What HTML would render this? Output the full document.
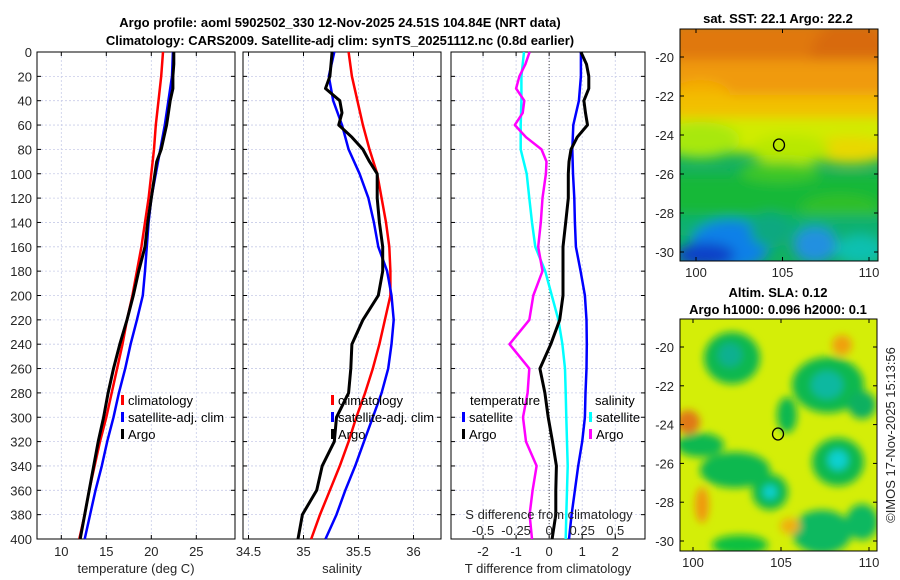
<!DOCTYPE html>
<html><head><meta charset="utf-8">
<style>
body{margin:0;background:#fff;}
svg{display:block;font-family:"Liberation Sans","DejaVu Sans",sans-serif;}
.tk{font-size:13px;fill:#262626;}
.ttl{font-size:13px;font-weight:bold;fill:#000;}
.lg{font-size:13px;fill:#000;}
</style></head>
<body>
<svg id="chart" width="900" height="580" viewBox="0 0 900 580">
<defs>
<filter id="bl" x="-50%" y="-50%" width="200%" height="200%"><feGaussianBlur stdDeviation="6"/></filter>
<filter id="bl2" x="-50%" y="-50%" width="200%" height="200%"><feGaussianBlur stdDeviation="4"/></filter>
<clipPath id="c1"><rect x="680" y="29" width="198" height="232"/></clipPath>
<clipPath id="c2"><rect x="680" y="319" width="197" height="232"/></clipPath>
</defs>
<text class="ttl" x="340" y="27" text-anchor="middle">Argo profile: aoml 5902502_330 12-Nov-2025 24.51S 104.84E (NRT data)</text>
<text class="ttl" x="340" y="45" text-anchor="middle">Climatology: CARS2009. Satellite-adj clim: synTS_20251112.nc (0.8d earlier)</text>
<g id="p1"></g>
<g id="p2"></g>
<g id="p3"></g>

<!-- SST map -->
<g>
<text class="ttl" x="778" y="23" text-anchor="middle">sat. SST: 22.1 Argo: 22.2</text>
<g clip-path="url(#c1)">
<rect x="680" y="29" width="198" height="232" fill="#12b060"/>
<g filter="url(#bl)">
<rect x="670" y="20" width="220" height="50" fill="#e07808"/>
<ellipse cx="850" cy="60" rx="40" ry="40" fill="#d86a08"/>
<rect x="670" y="60" width="220" height="40" fill="#f09a10"/>
<ellipse cx="700" cy="95" rx="30" ry="15" fill="#f4b000"/>
<rect x="670" y="95" width="220" height="30" fill="#f2c000"/>
<rect x="670" y="118" width="220" height="35" fill="#d0ec00"/>
<ellipse cx="700" cy="140" rx="40" ry="18" fill="#a8e810"/>
<ellipse cx="850" cy="150" rx="40" ry="14" fill="#e8d800"/>
<ellipse cx="790" cy="150" rx="40" ry="15" fill="#b8e800"/>
<rect x="670" y="175" width="220" height="40" fill="#18b838"/>
<ellipse cx="780" cy="172" rx="40" ry="10" fill="#40c828"/>
<ellipse cx="840" cy="210" rx="40" ry="15" fill="#30c028"/>
<rect x="670" y="215" width="220" height="20" fill="#10b070"/>
<ellipse cx="730" cy="245" rx="40" ry="25" fill="#1080e8"/>
<ellipse cx="705" cy="255" rx="30" ry="12" fill="#1040c8"/>
<ellipse cx="815" cy="245" rx="22" ry="18" fill="#2090e0"/>
<ellipse cx="860" cy="250" rx="25" ry="15" fill="#10c0b0"/>
<ellipse cx="770" cy="230" rx="20" ry="18" fill="#10a880"/>
</g>
</g>
<rect x="680" y="29" width="198" height="232" fill="none" stroke="#000" stroke-width="1"/>
<ellipse cx="779" cy="145" rx="5.5" ry="6" fill="none" stroke="#000" stroke-width="1.3"/>
</g>

<!-- SLA map -->
<g>
<text class="ttl" x="778" y="297" text-anchor="middle">Altim. SLA: 0.12</text>
<text class="ttl" x="778" y="314" text-anchor="middle">Argo h1000: 0.096 h2000: 0.1</text>
<g clip-path="url(#c2)">
<rect x="680" y="319" width="197" height="232" fill="#d4ee08"/>
<g filter="url(#bl2)">
<ellipse cx="732" cy="358" rx="28" ry="26" fill="#10b850"/>
<ellipse cx="730" cy="355" rx="12" ry="12" fill="#10b090"/>
<ellipse cx="828" cy="385" rx="36" ry="28" fill="#10b850"/>
<ellipse cx="827" cy="385" rx="16" ry="14" fill="#10b8a0"/>
<ellipse cx="862" cy="405" rx="14" ry="14" fill="#10b060"/>
<ellipse cx="787" cy="415" rx="10" ry="18" fill="#10b850"/>
<ellipse cx="700" cy="445" rx="24" ry="12" fill="#10b850"/>
<ellipse cx="735" cy="470" rx="35" ry="18" fill="#10b850"/>
<ellipse cx="838" cy="462" rx="26" ry="24" fill="#10b850"/>
<ellipse cx="838" cy="460" rx="10" ry="10" fill="#10d0d0"/>
<ellipse cx="770" cy="492" rx="18" ry="18" fill="#10b850"/>
<ellipse cx="770" cy="492" rx="7" ry="7" fill="#10d0d0"/>
<ellipse cx="822" cy="532" rx="30" ry="22" fill="#10b860"/>
<ellipse cx="862" cy="522" rx="16" ry="18" fill="#10b860"/>
<ellipse cx="740" cy="545" rx="28" ry="10" fill="#10c040"/>
<ellipse cx="688" cy="422" rx="12" ry="12" fill="#e07818"/>
<ellipse cx="702" cy="505" rx="7" ry="18" fill="#f09810"/>
<ellipse cx="842" cy="345" rx="10" ry="10" fill="#f0a010"/>
<ellipse cx="790" cy="526" rx="10" ry="8" fill="#f0b010"/>
</g>
</g>
<rect x="680" y="319" width="197" height="232" fill="none" stroke="#000" stroke-width="1"/>
<ellipse cx="778" cy="434" rx="5.5" ry="6" fill="none" stroke="#000" stroke-width="1.3"/>
</g>
<text class="tk" transform="translate(895,435) rotate(-90)" text-anchor="middle">©IMOS 17-Nov-2025 15:13:56</text>
<g id="maxes"></g>
</svg>
<script>
// ---- data ----
const depths = [0,20,40,60,80,100,120,140,160,180,200,220,240,260,280,300,320,340,360,380,400];
const tempClim = [21.3,21.1,20.8,20.5,20.3,20.0,19.7,19.3,18.9,18.4,17.9,17.3,16.8,16.2,15.6,15.0,14.3,13.7,13.1,12.6,12.0];
const tempSat  = [22.4,22.3,21.9,21.5,21.0,20.5,20.0,19.7,19.5,19.3,19.05,18.4,17.7,17.1,16.4,15.8,15.1,14.5,13.8,13.2,12.6];
const argoDepths = [0,10,20,30,40,50,60,70,80,90,100,120,140,160,180,200,220,240,260,280,300,320,340,360,380,400];
const tempArgo = [22.5,22.5,22.4,22.4,22.1,21.9,21.7,21.4,21.1,20.6,20.4,20.0,19.6,19.3,18.6,18.0,17.3,16.5,15.8,15.2,14.7,14.1,13.6,13.1,12.6,12.1];
const salClim = [35.41,35.44,35.49,35.54,35.60,35.67,35.71,35.75,35.78,35.79,35.79,35.74,35.69,35.63,35.56,35.48,35.41,35.33,35.24,35.15,35.07];
const salSat  = [35.28,35.23,35.27,35.35,35.41,35.51,35.59,35.64,35.68,35.76,35.80,35.82,35.80,35.77,35.71,35.63,35.55,35.47,35.38,35.30,35.20];
const salArgo = [35.26,35.25,35.24,35.20,35.33,35.35,35.32,35.44,35.54,35.60,35.67,35.67,35.69,35.72,35.72,35.68,35.54,35.44,35.43,35.41,35.30,35.28,35.17,35.12,34.99,34.95];
const dTsat  = [0.96,0.96,0.9,0.73,0.7,0.72,0.76,0.78,0.81,0.95,1.08,1.13,1.14,1.13,1.1,1.08,1.0,0.88,0.78,0.68,0.6];
const dSsat  = [-0.19,-0.21,-0.21,-0.215,-0.215,-0.17,-0.15,-0.13,-0.105,-0.03,0.02,0.07,0.1,0.12,0.125,0.13,0.135,0.14,0.135,0.13,0.125];
const dTargo = [0.96,1.13,1.2,1.2,1.05,1.1,1.16,0.85,0.66,0.6,0.58,0.58,0.5,0.42,0.42,0.42,0.32,0.05,-0.28,-0.13,-0.03,0.1,0.22,0.2,0.2,0.09];
const dSargo = [-0.148,-0.18,-0.225,-0.25,-0.188,-0.2,-0.26,-0.175,-0.058,-0.02,-0.025,-0.05,-0.063,-0.083,-0.05,-0.12,-0.15,-0.3,-0.15,-0.163,-0.198,-0.175,-0.095,-0.125,-0.148,-0.13];
const depthTicks = [0,20,40,60,80,100,120,140,160,180,200,220,240,260,280,300,320,340,360,380,400];
const tTicks = [10,15,20,25];
const sTicks = [34.5,35,35.5,36];
const dTicks = [-2,-1,0,1,2];
const dsTicks = [-0.5,-0.25,0,0.25,0.5];

const NS='http://www.w3.org/2000/svg';
function mk(tag,attrs,parent){const e=document.createElementNS(NS,tag);for(const k in attrs)e.setAttribute(k,attrs[k]);parent.appendChild(e);return e;}
const Y0=52,Y1=539;
const yD=d=>Y0+d/400*(Y1-Y0);
function lin(d0,d1,p0,p1){return v=>p0+(v-d0)/(d1-d0)*(p1-p0);}

function panel(g,x0,x1,xs,xticks,xlabel,yLabels){
  for(const d of depthTicks){
    const l=mk('line',{x1:x0,x2:x1,y1:yD(d),y2:yD(d),stroke:'#c8cce8','stroke-width':0.8,'stroke-dasharray':'2,2'},g);
    
    
  }
  for(const t of xticks){
    const l=mk('line',{x1:xs(t),x2:xs(t),y1:Y0,y2:Y1,stroke:'#c8cce8','stroke-width':0.8,'stroke-dasharray':'2,2'},g);
    
    
    const tx=mk('text',{x:xs(t),y:556,'text-anchor':'middle',class:'tk'},g);
    tx.textContent=String(t);
    
    
    mk('line',{x1:xs(t),x2:xs(t),y1:Y1,y2:Y1-4,stroke:'#000'},g);
    mk('line',{x1:xs(t),x2:xs(t),y1:Y0,y2:Y0+4,stroke:'#000'},g);
  }
  for(const d of depthTicks){
    mk('line',{x1:x0,x2:x0+4,y1:yD(d),y2:yD(d),stroke:'#000'},g);
    mk('line',{x1:x1,x2:x1-4,y1:yD(d),y2:yD(d),stroke:'#000'},g);
    if(yLabels){
      const tx=mk('text',{x:x0-5,y:yD(d)+5,'text-anchor':'end',class:'tk'},g);
      tx.textContent=String(d);
      
      
    }
  }
  const r=mk('rect',{x:x0,y:Y0,width:x1-x0,height:Y1-Y0,fill:'none',stroke:'#000','stroke-width':1},g);
  
  
  const xl=mk('text',{x:(x0+x1)/2,y:573,'text-anchor':'middle',class:'tk'},g);
  xl.textContent=xlabel;
  
  
}
function line(g,xs,vals,deps,color,w,name){
  const pts=vals.map((v,i)=>xs(v).toFixed(1)+','+yD(deps[i]).toFixed(1)).join(' ');
  const p=mk('polyline',{points:pts,fill:'none',stroke:color,'stroke-width':w,'stroke-linejoin':'round'},g);
  
  
}
function legendItem(g,x,y,color,label,name){
  mk('rect',{x:x,y:y-10,width:3,height:10,fill:color},g);
  const t=mk('text',{x:x+7,y:y,class:'lg'},g);
  t.textContent=label;
  
  
}

// panel 1
const g1=document.getElementById('p1');
const xT=lin(7.3,29.3,37,235);
panel(g1,37,235,xT,tTicks,'temperature (deg C)',true);
line(g1,xT,tempClim,depths,'#ff0000',2.5,'temp-climatology-line');
line(g1,xT,tempSat,depths,'#0000ff',2.5,'temp-satellite-line');
line(g1,xT,tempArgo,argoDepths,'#000000',3,'temp-argo-line');
legendItem(g1,121,405,'#ff0000','climatology','legend-climatology');
legendItem(g1,121,422,'#0000ff','satellite-adj. clim','legend-satellite');
legendItem(g1,121,439,'#000000','Argo','legend-argo');

// panel 2
const g2=document.getElementById('p2');
const xS=lin(34.45,36.25,243,441);
panel(g2,243,441,xS,sTicks,'salinity',false);
line(g2,xS,salClim,depths,'#ff0000',2.5,'sal-climatology-line');
line(g2,xS,salSat,depths,'#0000ff',2.5,'sal-satellite-line');
line(g2,xS,salArgo,argoDepths,'#000000',3,'sal-argo-line');
legendItem(g2,331,405,'#ff0000','climatology','legend-climatology');
legendItem(g2,331,422,'#0000ff','satellite-adj. clim','legend-satellite');
legendItem(g2,331,439,'#000000','Argo','legend-argo');

// panel 3
const g3=document.getElementById('p3');
const xD=lin(-2.97,2.9,451,645);
const xDS=v=>xD(v*4);
panel(g3,451,645,xD,dTicks,'T difference from climatology',false);
const zl=mk('line',{x1:xD(0),x2:xD(0),y1:Y0,y2:Y1,stroke:'#444','stroke-width':1,'stroke-dasharray':'1,2'},g3);


line(g3,xD,dTsat,depths,'#0000ff',2.5,'dt-satellite-line');
line(g3,xDS,dSsat,depths,'#00ffff',2.5,'ds-satellite-line');
line(g3,xDS,dSargo,argoDepths,'#ff00ff',2.5,'ds-argo-line');
line(g3,xD,dTargo,argoDepths,'#000000',3,'dt-argo-line');
let t=mk('text',{x:470,y:405,class:'lg'},g3);t.textContent='temperature';


legendItem(g3,462,422,'#0000ff','satellite','legend-t-satellite');
legendItem(g3,462,439,'#000000','Argo','legend-t-argo');
t=mk('text',{x:595,y:405,class:'lg'},g3);t.textContent='salinity';


legendItem(g3,589,422,'#00ffff','satellite','legend-s-satellite');
legendItem(g3,589,439,'#ff00ff','Argo','legend-s-argo');
t=mk('text',{x:549,y:519,'text-anchor':'middle',class:'tk'},g3);t.textContent='S difference from climatology';


for(const s of dsTicks){
  const tx=mk('text',{x:xDS(s),y:535,'text-anchor':'middle',class:'tk'},g3);
  tx.textContent=String(s);
  
  
}

// map axes
const ga=document.getElementById('maxes');
function mapAxes(x0,x1,y0,y1,lonF,latF){
  for(const lo of [100,105,110]){
    const tx=mk('text',{x:lonF(lo),y:y1+16,'text-anchor':'middle',class:'tk'},ga);
    tx.textContent=String(lo);
    
    
    mk('line',{x1:lonF(lo),x2:lonF(lo),y1:y1,y2:y1-4,stroke:'#000'},ga);
    mk('line',{x1:lonF(lo),x2:lonF(lo),y1:y0,y2:y0+4,stroke:'#000'},ga);
  }
  for(const la of [-20,-22,-24,-26,-28,-30]){
    const tx=mk('text',{x:x0-6,y:latF(la)+5,'text-anchor':'end',class:'tk'},ga);
    tx.textContent=String(la);
    
    
    mk('line',{x1:x0,x2:x0+4,y1:latF(la),y2:latF(la),stroke:'#000'},ga);
    mk('line',{x1:x1,x2:x1-4,y1:latF(la),y2:latF(la),stroke:'#000'},ga);
  }
}
mapAxes(680,878,29,261,lin(100,110,696,869),lin(-20,-30,57,252));
mapAxes(680,877,319,551,lin(100,110,693,869),lin(-20,-30,347,541));
</script>
</body></html>
